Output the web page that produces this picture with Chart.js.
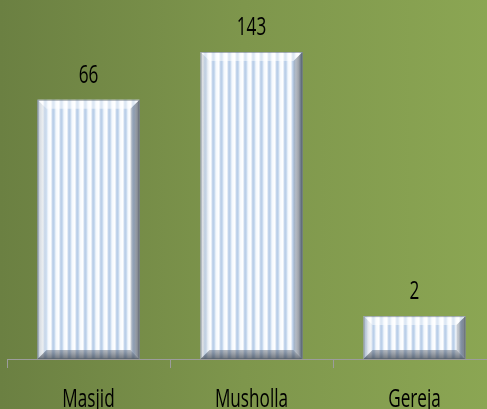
<!DOCTYPE html>
<html><head><meta charset="utf-8">
<script src="https://cdn.jsdelivr.net/npm/chart.js@4"></script>
<style>
html,body{margin:0;padding:0;overflow:hidden;width:487px;height:409px;background:#7c9449}
#wrap{position:absolute;left:0;top:0;width:500px;height:409px}
</style>
</head><body>
<div id="wrap"><canvas id="c" width="500" height="409"></canvas></div>
<script>
const categories = ['Masjid', 'Musholla', 'Gereja'];
const counts = [66, 143, 2];

const FONT = '"Open Sans", "Noto Sans", sans-serif';
const FONT_SIZE = 26;
const SQUEEZE = 0.66; // horizontal compression to mimic a condensed face

function makeStripePattern(ctx) {
  const pc = document.createElement('canvas');
  pc.width = 8; pc.height = 8;
  const p = pc.getContext('2d');
  const g = p.createLinearGradient(0, 0, 8, 0);
  g.addColorStop(0, '#f4f8fd');
  g.addColorStop(0.35, '#ffffff');
  g.addColorStop(0.62, '#b3c9e6');
  g.addColorStop(0.82, '#cadbef');
  g.addColorStop(1, '#f4f8fd');
  p.fillStyle = g;
  p.fillRect(0, 0, 8, 8);
  return ctx.createPattern(pc, 'repeat');
}

function squeezedText(ctx, text, x, y) {
  ctx.save();
  ctx.translate(x, y);
  ctx.scale(SQUEEZE, 1);
  ctx.fillText(text, 0, 0);
  ctx.restore();
}

const bgPlugin = {
  id: 'bg',
  beforeDraw(chart) {
    const { ctx, width, height } = chart;
    const g = ctx.createLinearGradient(0, 0, 487, 0);
    g.addColorStop(0, '#6b8042');
    g.addColorStop(0.5, '#7e964c');
    g.addColorStop(1, '#8ba653');
    ctx.save();
    ctx.fillStyle = g;
    ctx.fillRect(0, 0, width, height);
    ctx.restore();
  }
};

const bevelPlugin = {
  id: 'bevel',
  afterDatasetsDraw(chart) {
    const { ctx } = chart;
    const meta = chart.getDatasetMeta(0);
    ctx.save();
    meta.data.forEach((bar) => {
      const p = bar.getProps(['x', 'y', 'base', 'width'], true);
      const l = p.x - p.width / 2, r = p.x + p.width / 2, t = p.y, b = p.base;
      const s = Math.min(9, (b - t) / 2);
      const poly = (pts, fill) => {
        ctx.beginPath();
        ctx.moveTo(pts[0][0], pts[0][1]);
        for (let k = 1; k < pts.length; k++) ctx.lineTo(pts[k][0], pts[k][1]);
        ctx.closePath();
        ctx.fillStyle = fill;
        ctx.fill();
      };
      poly([[l, t], [r, t], [r - s, t + s], [l + s, t + s]], 'rgba(255,255,255,0.5)');
      const gl = ctx.createLinearGradient(l, 0, l + s, 0);
      gl.addColorStop(0, 'rgba(170,178,186,0.55)');
      gl.addColorStop(1, 'rgba(235,240,245,0.35)');
      poly([[l, t], [l + s, t + s], [l + s, b - s], [l, b]], gl);
      const gr = ctx.createLinearGradient(r - s, 0, r, 0);
      gr.addColorStop(0, 'rgba(120,130,145,0.35)');
      gr.addColorStop(1, 'rgba(60,68,80,0.75)');
      poly([[r, t], [r, b], [r - s, b - s], [r - s, t + s]], gr);
      const gb = ctx.createLinearGradient(0, b - s, 0, b);
      gb.addColorStop(0, 'rgba(90,100,115,0.45)');
      gb.addColorStop(1, 'rgba(50,58,70,0.7)');
      poly([[l, b], [r, b], [r - s, b - s], [l + s, b - s]], gb);
      ctx.strokeStyle = 'rgba(90,100,110,0.55)';
      ctx.lineWidth = 1;
      ctx.strokeRect(l + 0.5, t + 0.5, p.width - 1, b - t - 1);
    });
    ctx.fillStyle = '#000000';
    ctx.font = FONT_SIZE + 'px ' + FONT;
    ctx.textAlign = 'center';
    ctx.textBaseline = 'alphabetic';
    meta.data.forEach((bar, i) => {
      const p = bar.getProps(['x', 'y'], true);
      squeezedText(ctx, String(counts[i]), p.x, p.y - 17);
    });
    ctx.restore();
  },
  afterDraw(chart) {
    const { ctx, chartArea } = chart;
    const xs = chart.scales.x;
    ctx.save();
    ctx.fillStyle = '#000000';
    ctx.font = FONT_SIZE + 'px ' + FONT;
    ctx.textAlign = 'center';
    ctx.textBaseline = 'alphabetic';
    categories.forEach((c, i) => {
      squeezedText(ctx, c, xs.getPixelForValue(i), chartArea.bottom + 48);
    });
    ctx.restore();
  }
};

const canvas = document.getElementById('c');
const ctx = canvas.getContext('2d');
const stripes = makeStripePattern(ctx);

new Chart(canvas, {
  type: 'bar',
  data: {
    labels: categories,
    datasets: [{
      data: counts,
      backgroundColor: stripes,
      borderWidth: 0,
      categoryPercentage: 1,
      barPercentage: 0.626
    }]
  },
  options: {
    responsive: false,
    devicePixelRatio: 1,
    animation: false,
    layout: { padding: { left: 7, right: 4, top: 0, bottom: 0 } },
    plugins: { legend: { display: false }, tooltip: { enabled: false } },
    scales: {
      x: {
        type: 'category',
        offset: true,
        grid: { offset: true, drawOnChartArea: false, drawTicks: true, tickLength: 9, color: '#9c9c9c', lineWidth: 1 },
        border: { display: true, color: '#9c9c9c', width: 1 },
        ticks: { display: false },
        afterFit(scale) { scale.height = 50; }
      },
      y: {
        type: 'logarithmic',
        display: false,
        min: 1,
        max: 331
      }
    }
  },
  plugins: [bgPlugin, bevelPlugin]
});
</script>
</body></html>
